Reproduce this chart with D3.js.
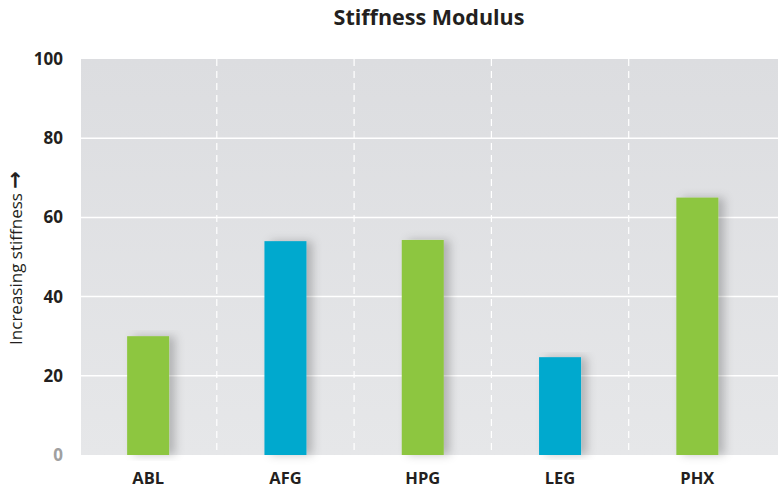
<!DOCTYPE html>
<html>
<head>
<meta charset="utf-8">
<script src="https://cdn.jsdelivr.net/npm/d3@7"></script>
<style>
  body { margin:0; background:#fff; }
  text { font-family:"Open Sans", "DejaVu Sans", sans-serif; }
</style>
</head>
<body>
<svg></svg>
<script>
var categories = ["ABL","AFG","HPG","LEG","PHX"];
var values = [30, 54, 54.3, 24.7, 65];
var barColors = ["#8dc63f","#00a9ce","#8dc63f","#00a9ce","#8dc63f"];
var yTicks = [0, 20, 40, 60, 80, 100];

var screen = { width:778, height:491 };

var svg = d3.select("svg")
            .attr("width", screen.width)
            .attr("height", screen.height);

var margins = { top:59, bottom:36, left:81, right:0 };
var height = screen.height - margins.top - margins.bottom;

var xScale = d3.scaleBand()
               .domain(categories)
               .range([79.5, 766]);

var yScale = d3.scaleLinear()
               .domain([0,100])
               .range([margins.top+height, margins.top]);

var defs = svg.append("defs");
var grad = defs.append("linearGradient")
               .attr("id","bg")
               .attr("x1",0).attr("y1",0).attr("x2",0).attr("y2",1);
grad.append("stop").attr("offset","0%").attr("stop-color","#dcdde0");
grad.append("stop").attr("offset","100%").attr("stop-color","#e6e7e9");

var shadow = defs.append("filter")
                 .attr("id","shadow")
                 .attr("x","-20%").attr("y","-5%")
                 .attr("width","160%").attr("height","110%");
shadow.append("feDropShadow")
      .attr("dx",6).attr("dy",0)
      .attr("stdDeviation",5)
      .attr("flood-color","#000")
      .attr("flood-opacity",0.22);

// background
svg.append("rect")
   .attr("x", margins.left)
   .attr("y", margins.top)
   .attr("width", screen.width - margins.left)
   .attr("height", height)
   .attr("fill","url(#bg)");

// horizontal grid
svg.append("g")
   .selectAll("line")
   .data(yTicks.filter(function(d) {return d>0 && d<100}))
   .enter()
   .append("line")
   .attr("x1", margins.left)
   .attr("x2", screen.width)
   .attr("y1", function(d) {return yScale(d)})
   .attr("y2", function(d) {return yScale(d)})
   .attr("stroke","#fff")
   .attr("stroke-width",1.5);

// vertical dashed dividers
svg.append("g")
   .selectAll("line")
   .data(categories.slice(1))
   .enter()
   .append("line")
   .attr("x1", function(d) {return xScale(d)})
   .attr("x2", function(d) {return xScale(d)})
   .attr("y1", margins.top)
   .attr("y2", margins.top+height)
   .attr("stroke","#fff")
   .attr("stroke-width",1.2)
   .attr("stroke-dasharray","7,5");

// bars
var barW = 42;
svg.append("g")
   .selectAll("rect")
   .data(values)
   .enter()
   .append("rect")
   .attr("x", function(d,i) {return xScale(categories[i]) + xScale.bandwidth()/2 - barW/2})
   .attr("y", function(d) {return yScale(d)})
   .attr("width", barW)
   .attr("height", function(d) {return yScale(0) - yScale(d)})
   .attr("fill", function(d,i) {return barColors[i]})
   .attr("filter","url(#shadow)");

// y tick labels
svg.append("g")
   .selectAll("text")
   .data(yTicks)
   .enter()
   .append("text")
   .attr("x", 63)
   .attr("y", function(d) {return yScale(d)+6})
   .attr("text-anchor","end")
   .attr("font-size",17)
   .attr("font-weight","bold")
   .attr("fill", function(d) {return d==0 ? "#a0a0a0" : "#231f20"})
   .text(function(d) {return d});

// x labels
svg.append("g")
   .selectAll("text")
   .data(categories)
   .enter()
   .append("text")
   .attr("x", function(d) {return xScale(d) + xScale.bandwidth()/2})
   .attr("y", 484)
   .attr("text-anchor","middle")
   .attr("font-size",16.5)
   .attr("font-weight","bold")
   .attr("fill","#231f20")
   .text(function(d) {return d});

// title
svg.append("text")
   .attr("x", 429)
   .attr("y", 25)
   .attr("text-anchor","middle")
   .attr("font-size",21.5)
   .attr("font-weight","bold")
   .attr("fill","#231f20")
   .text("Stiffness Modulus");

// y axis label
var yLabel = svg.append("text")
   .attr("transform","translate(22,258) rotate(-90)")
   .attr("text-anchor","middle")
   .attr("font-size",17)
   .attr("fill","#231f20");
yLabel.append("tspan").text("Increasing stiffness ");
yLabel.append("tspan").attr("font-size",21).attr("font-weight","bold").text("\u2192");
</script>
</body>
</html>
